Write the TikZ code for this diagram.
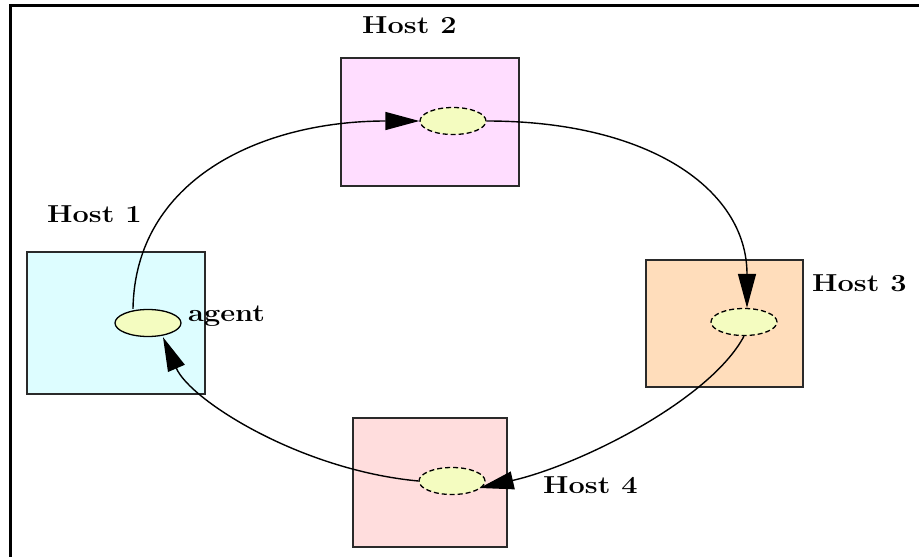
\documentclass[tikz,border=0pt]{standalone}
\usetikzlibrary{shapes.geometric,arrows.meta}
\definecolor{cyanbox}{HTML}{DDFDFF}
\definecolor{pinkbox}{HTML}{FFDDFF}
\definecolor{peachbox}{HTML}{FFDDBB}
\definecolor{rosebox}{HTML}{FFDDDD}
\definecolor{agentfill}{HTML}{F4FCC0}
\definecolor{edgegray}{HTML}{2A2A2A}
\tikzset{
  hostbox/.style={draw=edgegray, line width=1.6pt, inner sep=0pt, anchor=north west},
  agentell/.style={ellipse, draw=black, line width=1.3pt, fill=agentfill, inner sep=0pt, minimum width=66pt, minimum height=27pt},
  ghostell/.style={agentell, dash pattern=on 5pt off 3pt},
  lbl/.style={inner sep=0pt, anchor=base west, font=\fontsize{24.5}{28}\selectfont\bfseries},
  move/.style={draw=black, line width=1.4pt, -{Triangle[length=34pt,width=18pt,fill=black]}},
}
\newcommand{\wide}[1]{\scalebox{1.18}[1]{#1}}
\begin{document}
\begin{tikzpicture}[x=1pt,y=-1pt]
\useasboundingbox (0,0) rectangle (919,557);
\fill[white] (0,0) rectangle (919,557);
\draw[line width=3pt] (10,570) |- (930,5);
% host boxes
\node[hostbox, fill=cyanbox, minimum width=178pt, minimum height=142pt] (h1) at (26,251) {};
\node[hostbox, fill=pinkbox, minimum width=178pt, minimum height=128pt] (h2) at (340,57) {};
\node[hostbox, fill=peachbox, minimum width=157pt, minimum height=127pt] (h3) at (645,259) {};
\node[hostbox, fill=rosebox, minimum width=154pt, minimum height=129pt] (h4) at (352,417) {};
% labels
\node[lbl] (l1) at (47,222.5) {\wide{Host 1}};
\node[lbl] (l2) at (362,33) {\wide{Host 2}};
\node[lbl] (l3) at (812,291.5) {\wide{Host 3}};
\node[lbl] (l4) at (543,493) {\wide{Host 4}};
% agent ellipses
\node[agentell] (e1) at (148,323) {};
\node[ghostell] (e2) at (453,121) {};
\node[ghostell] (e3) at (744,322) {};
\node[ghostell] (e4) at (452,481) {};
\node[lbl] (la) at (188,321.5) {\wide{agent}};
% moves
\draw[move] ([xshift=-15pt]e1.north) .. controls (135,180) and (260,121) .. (e2.west);
\draw[move] (e2.east) .. controls (650,121) and (747,190) .. ([xshift=3pt]e3.north);
\draw[move] (e3.south) .. controls (710,400) and (580,465) .. ([xshift=-6pt,yshift=-7pt]e4.east);
\draw[move] (e4.west) .. controls (300,470) and (190,400) .. ([xshift=15pt]e1.south);
\end{tikzpicture}
\end{document}
